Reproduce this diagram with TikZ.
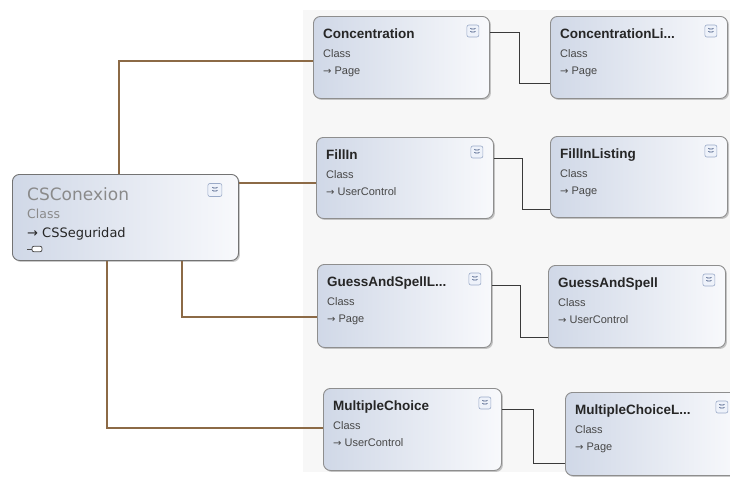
\documentclass[tikz,border=0pt]{standalone}
\usepackage{fontspec}
\setmainfont{Liberation Sans}
\newfontfamily\csfont{DejaVu Sans}
\usetikzlibrary{shadows}
\definecolor{brownline}{HTML}{8C6A46}
\definecolor{darkline}{HTML}{3A3A3A}
\definecolor{boxleft}{HTML}{D0D8E7}
\definecolor{boxright}{HTML}{F8F9FC}
\definecolor{boxborder}{HTML}{8E8E8E}
\definecolor{panel}{HTML}{F7F7F7}
\definecolor{csgray}{HTML}{8A8A8A}
\definecolor{icoborder}{HTML}{9AAAC8}
\definecolor{icofill}{HTML}{EEF2FA}
\definecolor{chev}{HTML}{4A5E86}
\tikzset{
  classbox/.style={draw=boxborder, line width=0.9pt, rounded corners=7pt,
    left color=boxleft, right color=boxright,
    drop shadow={shadow xshift=1.5pt, shadow yshift=-1.5pt, opacity=0.35, fill=black!60},
    inner sep=0pt, anchor=north west},
  titletext/.style={anchor=base west, inner sep=0pt, text=black!85,
    font=\bfseries\fontsize{13.5}{16}\selectfont},
  subtext/.style={anchor=base west, inner sep=0pt, text=black!72,
    font=\fontsize{11}{13}\selectfont},
  expander/.style={draw=icoborder, fill=icofill, rounded corners=2pt, line width=0.6pt,
    minimum width=12pt, minimum height=12pt, inner sep=0pt,
    path picture={
      \draw[chev, line width=0.7pt]
        ([xshift=-2.5pt,yshift=2.8pt]path picture bounding box.center) -- ++(2.5pt,-2pt) -- ++(2.5pt,2pt)
        ([xshift=-2.5pt,yshift=-0.2pt]path picture bounding box.center) -- ++(2.5pt,-2pt) -- ++(2.5pt,2pt);
    }},
  brownconn/.style={draw=brownline, line width=1.2pt},
  darkconn/.style={draw=darkline, line width=1pt},
}
\newcommand\classnode[7]{%
  \node[classbox, minimum width=#4pt, minimum height=#5pt] (#1) at (#2,#3) {};
  \node[titletext] (#1-t) at ([xshift=10pt,yshift=-22pt]#1.north west) {#6};
  \node[subtext] (#1-c) at ([xshift=10pt,yshift=-41pt]#1.north west) {Class};
  \node[subtext] (#1-b) at ([xshift=10pt,yshift=-58pt]#1.north west) {{\csfont\fontsize{10}{12}\selectfont →} #7};
  \node[expander] (#1-x) at ([xshift=-17pt,yshift=-15pt]#1.north east) {};
}
\begin{document}
\begin{tikzpicture}[x=1pt,y=-1pt]
\useasboundingbox (0,0) rectangle (730,477);
\fill[white] (0,0) rectangle (730,477);
\fill[panel] (303,10) rectangle (730,472);

% central class
\node[classbox, minimum width=226pt, minimum height=86pt, draw=black!55] (csc) at (12,174) {};
\node[anchor=base west, inner sep=0pt, text=csgray, font=\csfont\fontsize{17}{20}\selectfont] (csc-t) at ([xshift=15pt,yshift=-26pt]csc.north west) {CSConexion};
\node[anchor=base west, inner sep=0pt, text=csgray, font=\csfont\fontsize{12.5}{15}\selectfont] (csc-c) at ([xshift=15pt,yshift=-44pt]csc.north west) {Class};
\node[anchor=base west, inner sep=0pt, text=black!85, font=\csfont\fontsize{13}{15}\selectfont] (csc-b) at ([xshift=15pt,yshift=-63pt]csc.north west) {→ CSSeguridad};
\node[draw=black!70, fill=white, rounded corners=2pt, minimum width=10pt, minimum height=5.5pt, inner sep=0pt, line width=0.8pt] (csc-p) at ([xshift=25pt,yshift=-75pt]csc.north west) {};
\draw[black!70, line width=0.8pt] (csc-p.west) -- ++(-5pt,0);
\node[expander, minimum width=14pt, minimum height=13pt] (csc-x) at ([xshift=-24pt,yshift=-16pt]csc.north east) {};

% class boxes
\classnode{conc}{313}{16}{176}{82}{Concentration}{Page}
\classnode{concl}{550}{16}{177}{82}{ConcentrationLi...}{Page}
\classnode{fill}{316}{137}{177}{81}{FillIn}{UserControl}
\classnode{filll}{550}{136}{177}{81}{FillInListing}{Page}
\classnode{gsl}{317}{264}{174}{83}{GuessAndSpellL...}{Page}
\classnode{gs}{548}{265}{177}{82}{GuessAndSpell}{UserControl}
\classnode{mc}{323}{388}{178}{82}{MultipleChoice}{UserControl}
\classnode{mcl}{565}{392}{173}{83}{MultipleChoiceL...}{Page}

% brown connectors from CSConexion
\coordinate (k1) at (119,61);
\coordinate (k2) at (0,183);
\coordinate (k3) at (182,317);
\coordinate (k4) at (107,428);
\draw[brownconn] (csc.north -| k1) |- (conc.west |- k1);
\draw[brownconn] (csc.east |- k2) -- (fill.west |- k2);
\draw[brownconn] (csc.south -| k3) |- (gsl.west |- k3);
\draw[brownconn] (csc.south -| k4) |- (mc.west |- k4);

% dark connectors between pairs
\coordinate (j1) at (519,32);  \coordinate (j1b) at (519,83);
\coordinate (j2) at (522,158); \coordinate (j2b) at (522,209);
\coordinate (j3) at (520,285); \coordinate (j3b) at (520,337);
\coordinate (j4) at (533,409); \coordinate (j4b) at (533,463);
\draw[darkconn] (conc.east |- j1) -- (j1) -- (j1b) -- (concl.west |- j1b);
\draw[darkconn] (fill.east |- j2) -- (j2) -- (j2b) -- (filll.west |- j2b);
\draw[darkconn] (gsl.east |- j3) -- (j3) -- (j3b) -- (gs.west |- j3b);
\draw[darkconn] (mc.east |- j4) -- (j4) -- (j4b) -- (mcl.west |- j4b);
\end{tikzpicture}
\end{document}
